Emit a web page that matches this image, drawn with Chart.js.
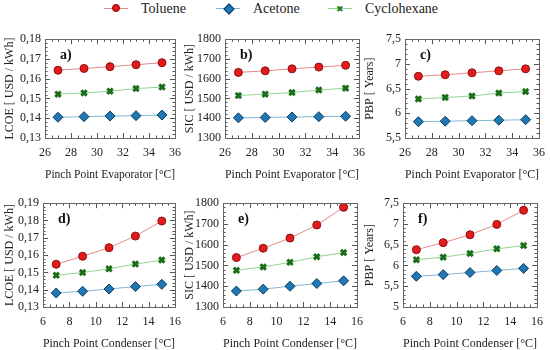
<!DOCTYPE html>
<html>
<head>
<meta charset="utf-8">
<script src="https://cdn.jsdelivr.net/npm/chart.js@4.4.1/dist/chart.umd.min.js"></script>
<style>
  body { margin: 0; width: 550px; height: 350px; background: #fff; position: relative; overflow: hidden; font-family: "Liberation Serif", serif; }
  .panel { position: absolute; }
  .leg { position: absolute; top: 0; height: 18px; font-size: 14px; color: #222; line-height: 18px; }
  .leg .ln { position: absolute; top: 8px; left: 0; width: 24px; height: 1px; }
  .leg .mk { position: absolute; }
  .leg .tx { position: absolute; left: 37px; top: 0; white-space: nowrap; }
</style>
</head>
<body>

<div class="leg" style="left:104px">
  <div class="ln" style="background:#e58a8a"></div>
  <div class="mk" style="left:8px;top:4px;border-radius:50%;background:#e41a1c;border:1px solid #8b0000;box-sizing:border-box;width:8px;height:8px"></div>
  <div class="tx">Toluene</div>
</div>
<div class="leg" style="left:216px">
  <div class="ln" style="background:#86b6d6"></div>
  <div class="mk" style="left:9px;top:5px;width:6px;height:6px;background:#1f78b4;border:1px solid #0b3c5d;transform:rotate(45deg)"></div>
  <div class="tx">Acetone</div>
</div>
<div class="leg" style="left:328px">
  <div class="ln" style="background:#92d392"></div>
  <div class="mk" style="left:8px;top:4px;font-size:9px;line-height:10px;color:#1a7a1a;font-family:'DejaVu Sans'">&#x2716;</div>
  <div class="tx">Cyclohexane</div>
</div>

<div class="panel" style="left:0;top:28px"><canvas id="ca" width="190" height="153"></canvas></div>
<div class="panel" style="left:180px;top:28px"><canvas id="cb" width="194" height="153"></canvas></div>
<div class="panel" style="left:360px;top:28px"><canvas id="cc" width="194" height="153"></canvas></div>
<div class="panel" style="left:0;top:192px"><canvas id="cd" width="190" height="158"></canvas></div>
<div class="panel" style="left:180px;top:192px"><canvas id="ce" width="192" height="158"></canvas></div>
<div class="panel" style="left:360px;top:192px"><canvas id="cf" width="192" height="158"></canvas></div>

<script>
// x values
const evapTemps = [27, 29, 31, 33, 35];
const condTemps = [7, 9, 11, 13, 15];

// a) LCOE vs evaporator pinch point
const lcoeEvapToluene = [0.1643, 0.1652, 0.1661, 0.1671, 0.1681];
const lcoeEvapAcetone = [0.1405, 0.1408, 0.1411, 0.1413, 0.1416];
const lcoeEvapCyclo = [0.1522, 0.1528, 0.1537, 0.1550, 0.1558];

// b) SIC vs evaporator pinch point
const sicEvapToluene = [1632, 1640, 1650, 1659, 1668];
const sicEvapAcetone = [1402, 1404, 1406, 1408, 1410];
const sicEvapCyclo = [1515, 1522, 1530, 1543, 1552];

// c) PBP vs evaporator pinch point
const pbpEvapToluene = [6.75, 6.78, 6.82, 6.86, 6.90];
const pbpEvapAcetone = [5.83, 5.84, 5.85, 5.86, 5.87];
const pbpEvapCyclo = [6.29, 6.32, 6.35, 6.41, 6.44];

// d) LCOE vs condenser pinch point
const lcoeCondToluene = [0.1547, 0.1593, 0.1643, 0.1710, 0.1797];
const lcoeCondAcetone = [0.1381, 0.1391, 0.1404, 0.1418, 0.1431];
const lcoeCondCyclo = [0.1483, 0.1499, 0.1521, 0.1548, 0.1571];

// e) SIC vs condenser pinch point
const sicCondToluene = [1538, 1583, 1632, 1695, 1780];
const sicCondAcetone = [1377, 1386, 1400, 1413, 1426];
const sicCondCyclo = [1477, 1493, 1515, 1542, 1562];

// f) PBP vs condenser pinch point
const pbpCondToluene = [6.38, 6.55, 6.74, 6.99, 7.33];
const pbpCondAcetone = [5.74, 5.78, 5.83, 5.88, 5.93];
const pbpCondCyclo = [6.14, 6.20, 6.29, 6.40, 6.48];

const fluidNames = ["Toluene", "Acetone", "Cyclohexane"];

const serif = "'Liberation Serif', 'Times New Roman', serif";

// comma as decimal separator
function commaFmt(digits) {
  return (v) => {
    const s = digits === null ? String(Number(v.toFixed(2))) : v.toFixed(digits);
    return s.replace(".", ",");
  };
}

// inward ticks on all four sides, plus a box and the panel letter
const framePlugin = {
  id: "frame",
  afterDatasetsDraw(chart, args, opts) {
    const { ctx, chartArea: a, scales } = chart;
    const x = scales.x, y = scales.y;
    ctx.save();
    ctx.strokeStyle = "#555";
    ctx.lineWidth = 1;
    ctx.beginPath();
    const xs = x.options.ticks.stepSize, ys = y.options.ticks.stepSize;
    for (let v = x.min, i = 0; v <= x.max + 1e-9; v += xs / 4, i++) {
      const px = Math.round(x.getPixelForValue(v)) + 0.5;
      const len = i % 4 === 0 ? 5 : 2.5;
      ctx.moveTo(px, a.bottom); ctx.lineTo(px, a.bottom - len);
      ctx.moveTo(px, a.top); ctx.lineTo(px, a.top + len);
    }
    for (let v = y.min, i = 0; v <= y.max + ys * 1e-6; v += ys / 5, i++) {
      const py = Math.round(y.getPixelForValue(v)) + 0.5;
      const len = i % 5 === 0 ? 5 : 2.5;
      ctx.moveTo(a.left, py); ctx.lineTo(a.left + len, py);
      ctx.moveTo(a.right, py); ctx.lineTo(a.right - len, py);
    }
    ctx.stroke();
    ctx.strokeStyle = "#666";
    ctx.strokeRect(Math.round(a.left) + 0.5, Math.round(a.top) + 0.5,
      Math.round(a.right - a.left), Math.round(a.bottom - a.top));
    ctx.fillStyle = "#111";
    ctx.font = "bold 14px " + serif;
    ctx.textBaseline = "middle";
    ctx.fillText(opts.letter, a.left + 15, a.top + 16);
    ctx.restore();
  }
};

function makeDatasets(tol, ace, cyc) {
  return [
    { label: fluidNames[0], data: tol, borderColor: "#e58a8a", borderWidth: 1,
      pointStyle: "circle", pointRadius: 4, pointBackgroundColor: "#e41a1c",
      pointBorderColor: "#8b1010", pointBorderWidth: 1 },
    { label: fluidNames[1], data: ace, borderColor: "#86b6d6", borderWidth: 1,
      pointStyle: "rectRot", pointRadius: 5, pointBackgroundColor: "#1f78b4",
      pointBorderColor: "#0b3c5d", pointBorderWidth: 1 },
    { label: fluidNames[2], data: cyc, borderColor: "#92d392", borderWidth: 1,
      pointStyle: "crossRot", pointRadius: 3.8, pointBackgroundColor: "#2ca02c",
      pointBorderColor: "#1a6e1a", pointBorderWidth: 3 }
  ];
}

function makePanel(id, letter, xVals, xTitle, xMin, xMax, yTitle, yMin, yMax, yStep, yDigits, sets, yAxisW) {
  new Chart(document.getElementById(id), {
    type: "line",
    data: { labels: xVals, datasets: sets },
    options: {
      responsive: false,
      animation: false,
      devicePixelRatio: 1,
      layout: { padding: { top: 9, right: 0, left: 0, bottom: 0 } },
      plugins: { legend: { display: false }, tooltip: { enabled: false }, frame: { letter } },
      scales: {
        x: {
          type: "linear", min: xMin, max: xMax,
          grid: { display: false, drawTicks: false }, border: { display: false },
          ticks: { stepSize: 2, color: "#222", padding: 9, maxRotation: 0, autoSkip: false,
            font: { family: serif, size: 12, lineHeight: 1 } },
          title: { display: true, text: xTitle, color: "#222", padding: { top: 0, bottom: 0 },
            font: { family: serif, size: 13, lineHeight: 1 } }
        },
        y: {
          min: yMin, max: yMax,
          grid: { display: false, drawTicks: false }, border: { display: false },
          ticks: { stepSize: yStep, color: "#222", padding: 4, autoSkip: false,
            font: { family: serif, size: 12 }, callback: commaFmt(yDigits) },
          title: { display: true, text: yTitle, color: "#222", padding: { top: 3, bottom: 0 },
            font: { family: serif, size: 12 } },
          afterFit: (s) => { s.width = yAxisW; }
        }
      }
    },
    plugins: [framePlugin]
  });
}

const evapTitle = "Pinch Point Evaporator [°C]";
const condTitle = "Pinch Point Condenser [°C]";

makePanel("ca", "a)", evapTemps, evapTitle, 26, 36, "LCOE [ USD / kWh]", 0.13, 0.18, 0.01, 2,
  makeDatasets(lcoeEvapToluene, lcoeEvapAcetone, lcoeEvapCyclo), 45);
makePanel("cb", "b)", evapTemps, evapTitle, 26, 36, "SIC [ USD / kWh]", 1300, 1800, 100, 0,
  makeDatasets(sicEvapToluene, sicEvapAcetone, sicEvapCyclo), 45);
makePanel("cc", "c)", evapTemps, evapTitle, 26, 36, "PBP [ Years]", 5.5, 7.5, 0.5, null,
  makeDatasets(pbpEvapToluene, pbpEvapAcetone, pbpEvapCyclo), 45);
makePanel("cd", "d)", condTemps, condTitle, 6, 16, "LCOE [ USD / kWh]", 0.13, 0.19, 0.01, 2,
  makeDatasets(lcoeCondToluene, lcoeCondAcetone, lcoeCondCyclo), 43);
makePanel("ce", "e)", condTemps, condTitle, 6, 16, "SIC [ USD / kWh]", 1300, 1800, 100, 0,
  makeDatasets(sicCondToluene, sicCondAcetone, sicCondCyclo), 43);
makePanel("cf", "f)", condTemps, condTitle, 6, 16, "PBP [ Years]", 5, 7.5, 0.5, null,
  makeDatasets(pbpCondToluene, pbpCondAcetone, pbpCondCyclo), 43);
</script>
</body>
</html>
